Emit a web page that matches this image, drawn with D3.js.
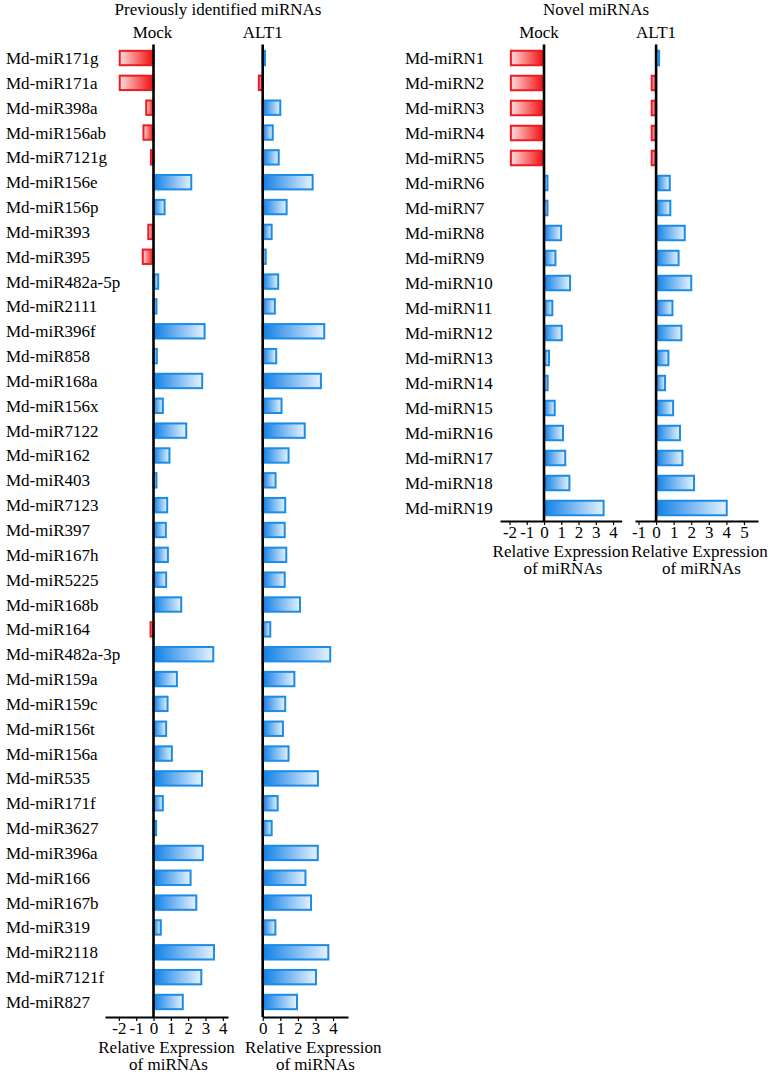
<!DOCTYPE html>
<html>
<head>
<meta charset="utf-8">
<script src="https://cdn.jsdelivr.net/npm/d3@7/dist/d3.min.js"></script>
<style>
  html, body { margin: 0; padding: 0; background: #fff; }
  svg { display: block; }
  text { font-family: "Liberation Serif", "Times New Roman", serif; fill: #000; }
</style>
</head>
<body>
<svg id="chart" width="773" height="1076"></svg>
<script>
// ---------- DATA ----------
const knownMiRNAs = ["Md-miR171g","Md-miR171a","Md-miR398a","Md-miR156ab","Md-miR7121g","Md-miR156e","Md-miR156p","Md-miR393","Md-miR395","Md-miR482a-5p","Md-miR2111","Md-miR396f","Md-miR858","Md-miR168a","Md-miR156x","Md-miR7122","Md-miR162","Md-miR403","Md-miR7123","Md-miR397","Md-miR167h","Md-miR5225","Md-miR168b","Md-miR164","Md-miR482a-3p","Md-miR159a","Md-miR159c","Md-miR156t","Md-miR156a","Md-miR535","Md-miR171f","Md-miR3627","Md-miR396a","Md-miR166","Md-miR167b","Md-miR319","Md-miR2118","Md-miR7121f","Md-miR827"];
const knownMock = [-1.95,-1.95,-0.42,-0.58,-0.15,2.18,0.64,-0.3,-0.62,0.27,0.17,2.95,0.19,2.81,0.54,1.89,0.92,0.17,0.79,0.71,0.83,0.73,1.6,-0.17,3.45,1.35,0.81,0.73,1.06,2.8,0.54,0.15,2.85,2.14,2.47,0.42,3.49,2.76,1.69];
const knownALT1 = [0.13,-0.22,1.0,0.57,0.91,2.84,1.36,0.51,0.17,0.88,0.69,3.5,0.77,3.31,1.07,2.39,1.47,0.73,1.28,1.25,1.34,1.25,2.12,0.43,3.84,1.8,1.28,1.15,1.47,3.14,0.85,0.51,3.13,2.43,2.75,0.72,3.73,3.03,1.95];

const novelMiRNAs = ["Md-miRN1","Md-miRN2","Md-miRN3","Md-miRN4","Md-miRN5","Md-miRN6","Md-miRN7","Md-miRN8","Md-miRN9","Md-miRN10","Md-miRN11","Md-miRN12","Md-miRN13","Md-miRN14","Md-miRN15","Md-miRN16","Md-miRN17","Md-miRN18","Md-miRN19"];
const novelMock = [-1.92,-1.92,-1.92,-1.92,-1.92,0.2,0.2,0.99,0.66,1.51,0.48,1.03,0.29,0.21,0.62,1.1,1.23,1.47,3.45];
const novelALT1 = [0.17,-0.25,-0.25,-0.25,-0.25,0.78,0.81,1.63,1.28,2.0,0.93,1.44,0.7,0.51,0.97,1.36,1.5,2.16,4.02];

const knownMockTicks = [-2,-1,0,1,2,3,4];
const knownALT1Ticks = [0,1,2,3,4];
const novelMockTicks = [-2,-1,0,1,2,3,4];
const novelALT1Ticks = [-1,0,1,2,3,4,5];

const sectionTitles = ["Previously identified miRNAs", "Novel miRNAs"];
const groupNames = ["Mock", "ALT1"];
const axisTitle = ["Relative Expression", "of miRNAs"];

// ---------- DRAWING ----------
const svg = d3.select("#chart");
const FONT = 17;
const SERIF = '"Liberation Serif", "Times New Roman", serif';

const defs = svg.append("defs");
const gBlue = defs.append("linearGradient").attr("id","gBlue").attr("x1","0").attr("x2","1").attr("y1","0").attr("y2","0");
gBlue.append("stop").attr("offset","0%").attr("stop-color","#0f7fe6");
gBlue.append("stop").attr("offset","100%").attr("stop-color","#e6f2fe");
const gRed = defs.append("linearGradient").attr("id","gRed").attr("x1","0").attr("x2","1").attr("y1","0").attr("y2","0");
gRed.append("stop").attr("offset","0%").attr("stop-color","#ffdcdc");
gRed.append("stop").attr("offset","100%").attr("stop-color","#f00a0a");

function drawSection(cfg) {
  const y = d3.scaleBand().domain(cfg.labels).range(cfg.yRange).paddingInner(0.34).paddingOuter(0.17);
  const axisY = cfg.axisY;

  svg.append("text").attr("x", cfg.titleX).attr("y", 15)
    .attr("text-anchor","middle").attr("font-size", FONT).attr("font-family", SERIF).text(cfg.title);

  svg.append("g").selectAll("text").data(cfg.labels).join("text")
    .attr("x", cfg.labelX)
    .attr("y", d => y(d) + y.bandwidth()/2 + 6)
    .attr("font-size", FONT).attr("font-family", SERIF)
    .text(d => d);

  cfg.groups.forEach((grp, gi) => {
    const x = d3.scaleLinear().domain(grp.domain).range(grp.range);
    const g = svg.append("g");
    const data = cfg.labels.map((l, i) => ({ label: l, v: grp.values[i] }));

    g.selectAll("rect").data(data).join("rect")
      .attr("x", d => Math.min(x(0), x(d.v)))
      .attr("y", d => y(d.label) + 1)
      .attr("width", d => Math.abs(x(d.v) - x(0)))
      .attr("height", y.bandwidth() - 2)
      .attr("fill", d => d.v < 0 ? "url(#gRed)" : "url(#gBlue)")
      .attr("stroke", d => d.v < 0 ? "#ea1c24" : "#1a8ce8")
      .attr("stroke-width", 2);

    const ax = g.append("g").attr("transform", `translate(0,${axisY})`)
      .call(d3.axisBottom(x).tickValues(grp.ticks).tickSize(4).tickSizeOuter(0).tickPadding(1).tickFormat(d => String(d)));
    ax.attr("font-family", SERIF);
    ax.select(".domain").attr("stroke","#000").attr("stroke-width",2);
    ax.selectAll(".tick line").attr("stroke","#000").attr("stroke-width",1.2);
    ax.selectAll(".tick text").attr("font-size", FONT).attr("font-family", SERIF).attr("fill","#000");

    g.append("line").attr("x1", x(0)).attr("x2", x(0))
      .attr("y1", cfg.yRange[0] - 1).attr("y2", axisY)
      .attr("stroke","#000").attr("stroke-width",2.6);

    g.append("text").attr("x", x(0) + grp.nameDx).attr("y", 38)
      .attr("text-anchor","middle").attr("font-size", FONT).attr("font-family", SERIF).text(groupNames[gi]);

    const cx = (grp.range[0] + grp.range[1]) / 2 + grp.titleDx;
    g.append("text").attr("x", cx).attr("y", axisY + 36)
      .attr("text-anchor","middle").attr("font-size", FONT).attr("font-family", SERIF).text(axisTitle[0]);
    g.append("text").attr("x", cx + 2).attr("y", axisY + 53)
      .attr("text-anchor","middle").attr("font-size", FONT).attr("font-family", SERIF).text(axisTitle[1]);
  });
}

drawSection({
  title: sectionTitles[0], titleX: 218, labelX: 6,
  labels: knownMiRNAs, yRange: [45.6, 1014.4], axisY: 1017,
  groups: [
    { values: knownMock, domain: [-2.8, 4.3], range: [105, 228], ticks: knownMockTicks, nameDx: -1, titleDx: 0 },
    { values: knownALT1, domain: [0, 4.85], range: [262.7, 348], ticks: knownALT1Ticks, nameDx: 0, titleDx: 8 }
  ]
});

drawSection({
  title: sectionTitles[1], titleX: 596, labelX: 405,
  labels: novelMiRNAs, yRange: [45.5, 520.5], axisY: 521,
  groups: [
    { values: novelMock, domain: [-2.55, 4.5], range: [500, 621.7], ticks: novelMockTicks, nameDx: -5, titleDx: 0 },
    { values: novelALT1, domain: [-1.2, 5.8], range: [635, 758], ticks: novelALT1Ticks, nameDx: 0, titleDx: 3 }
  ]
});
</script>
</body>
</html>
